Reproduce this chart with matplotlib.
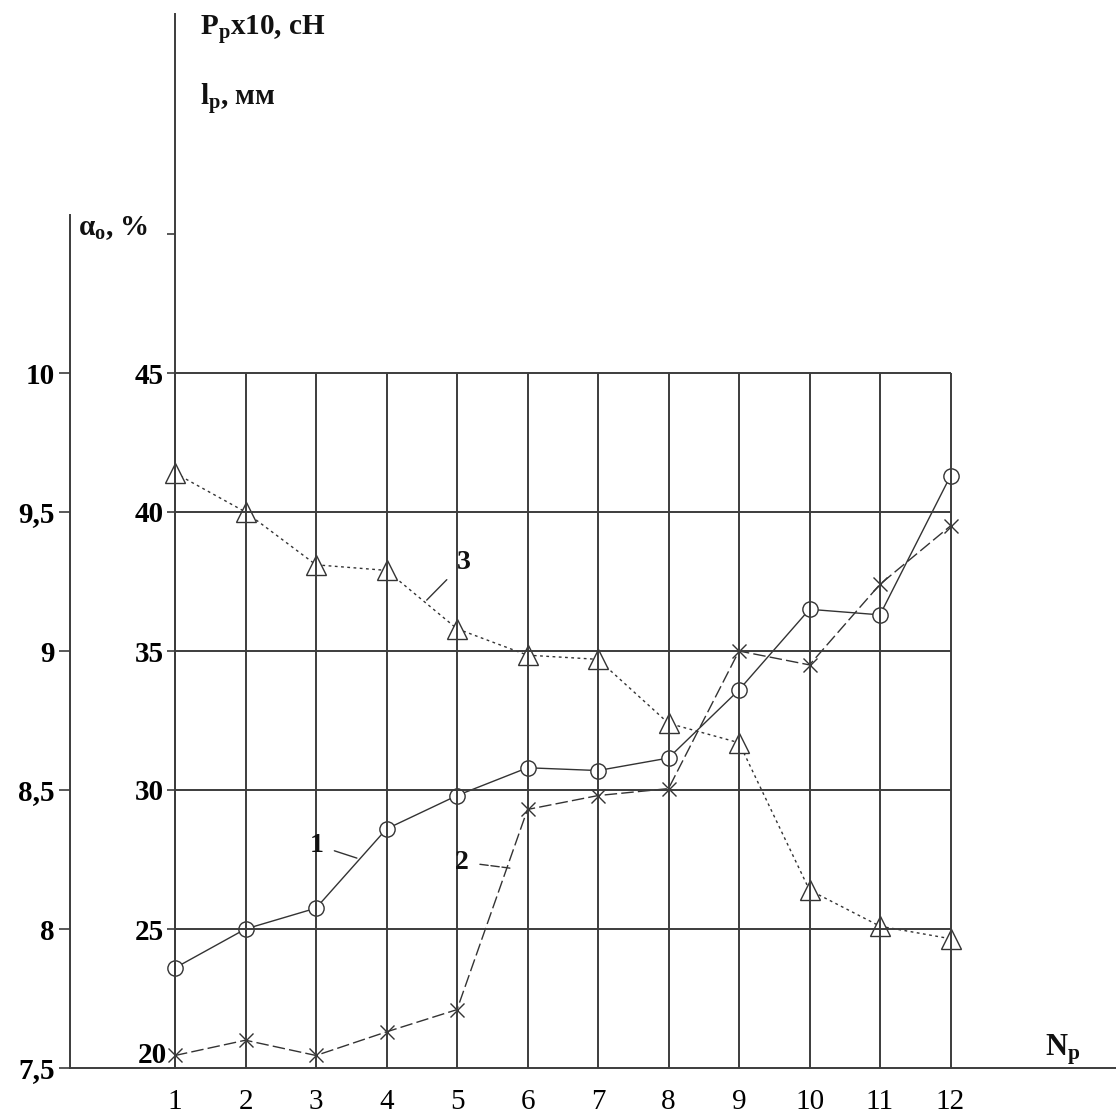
import matplotlib as mpl
mpl.use("Agg")
import matplotlib.pyplot as plt
import numpy as np

plt.rcParams["font.family"] = ["Liberation Serif", "DejaVu Serif"]
plt.rcParams["mathtext.fontset"] = "custom"
plt.rcParams["mathtext.rm"] = "Liberation Serif"
plt.rcParams["mathtext.bf"] = "Liberation Serif:bold"
plt.rcParams["mathtext.it"] = "Liberation Serif:italic"

# data
n_p = [1, 2, 3, 4, 5, 6, 7, 8, 9, 10, 11, 12]
curve_1 = [23.6, 25.0, 25.75, 28.6, 29.8, 30.8, 30.7, 31.15, 33.6, 36.5, 36.3, 41.3]
curve_2 = [20.45, 21.0, 20.45, 21.3, 22.1, 29.3, 29.8, 30.05, 35.0, 34.5, 37.4, 39.5]
curve_3 = [41.4, 40.0, 38.1, 37.9, 35.8, 34.85, 34.7, 32.4, 31.7, 26.4, 25.1, 24.65]

p_ticks = [20, 25, 30, 35, 40, 45, 50]
p_labels = ["", "25", "30", "35", "40", "45", ""]
alpha_ticks = [7.5, 8.0, 8.5, 9.0, 9.5, 10.0]
alpha_labels = ["7,5", "8", "8,5", "9", "9,5", "10"]

INK = "#333333"
GRID = "#3c3c3c"
FS = 21

W, H = 1116, 1117
X0_PX, DX_PX = 175, 70.5     # pixel of N=1 and pixels per unit
Y20_PX, DY_PX = 1068, 27.8   # pixel (from top) of P=20 and pixels per unit


def p_to_alpha(p):
    return 7.5 + (np.asarray(p) - 20.0) / 10.0


def alpha_to_p(a):
    return 20.0 + (np.asarray(a) - 7.5) * 10.0


fig = plt.figure(figsize=(W / 100, H / 100), dpi=100)
ax = fig.add_axes([0, 0, 1, 1])
ax.set_xlim(1 - X0_PX / DX_PX, 1 + (W - X0_PX) / DX_PX)
ax.set_ylim(20 - (H - Y20_PX) / DY_PX, 20 + Y20_PX / DY_PX)
x_outer = 70 / W

# grid
ax.vlines(n_p, 20, 45, color=GRID, lw=1.4, zorder=2)
ax.hlines(p_ticks[1:6], n_p[0], n_p[-1], color=GRID, lw=1.4, zorder=2)

# curves
ax.plot(n_p, curve_1, color=INK, lw=1.0, marker="o", ms=11, mfc="white",
        mec=INK, mew=1.0, zorder=1)
ax.plot(n_p, curve_2, color=INK, lw=1.0, dashes=(9, 3), marker="x", ms=10,
        mec=INK, mew=1.0, zorder=1)
ax.plot(n_p, curve_3, color=INK, lw=1.0, dashes=(2, 2.5), marker="^", ms=14,
        mfc="white", mec=INK, mew=1.0, zorder=1)

# curve labels with leaders
lab_kw = dict(fontsize=20, fontweight="bold", ha="center", va="center", color="#111111")
ax.annotate("1", xy=(3.58, 27.55), xytext=(3.01, 28.02), **lab_kw,
            arrowprops=dict(arrowstyle="-", color=INK, lw=1.0, shrinkA=6, shrinkB=0))
ax.annotate("2", xy=(5.75, 27.19), xytext=(5.07, 27.41), **lab_kw,
            arrowprops=dict(arrowstyle="-", color=INK, lw=1.0, ls=(0, (6, 2)),
                            shrinkA=6, shrinkB=0))
ax.annotate("3", xy=(4.57, 36.83), xytext=(5.09, 38.17), **lab_kw,
            arrowprops=dict(arrowstyle="-", color=INK, lw=1.0, shrinkA=7, shrinkB=0))

# inner axis (P, l) and N axis
for side in ["top", "right"]:
    ax.spines[side].set_visible(False)
ax.spines["left"].set_position(("data", 1))
ax.spines["left"].set_bounds(20, 57.9)
ax.spines["bottom"].set_position(("data", 20))
xl = ax.get_xlim()
ax.spines["bottom"].set_bounds(xl[0] + x_outer * (xl[1] - xl[0]), xl[1])
for side in ["left", "bottom"]:
    ax.spines[side].set_color(GRID)
    ax.spines[side].set_linewidth(1.4)

ax.set_yticks(p_ticks, p_labels, fontweight="bold")
ax.tick_params(axis="y", direction="out", length=6, width=1.2, pad=2,
               labelsize=FS, color=GRID)
# the "20" label sits a little above the N axis
ax.annotate(str(p_ticks[0]), xy=(n_p[0], p_ticks[0]), xytext=(-6, 9),
            textcoords="offset points", ha="right", va="center",
            fontsize=FS, fontweight="bold")
ax.set_xticks(n_p, [str(v) for v in n_p])
ax.tick_params(axis="x", length=0, pad=15, labelsize=FS)

# outer axis (alpha)
secax = ax.secondary_yaxis(x_outer, functions=(p_to_alpha, alpha_to_p))
secax.set_yticks(alpha_ticks, alpha_labels, fontweight="bold")
secax.tick_params(axis="y", direction="out", length=8, width=1.2, pad=3,
                  labelsize=FS, color=GRID)
secax.spines["left"].set_bounds(7.5, 10.57)
secax.spines["left"].set_color(GRID)
secax.spines["left"].set_linewidth(1.4)

# axis titles
ttl_kw = dict(transform=ax.transAxes, fontsize=21, fontweight="bold",
              va="center", ha="left", color="#111111")
ax.text(200 / W, 1 - 30 / H, r"P$_\mathbf{p}$x10, сН", **ttl_kw)
ax.text(200 / W, 1 - 100 / H, r"l$_\mathbf{p}$, мм", **ttl_kw)
ax.text(78 / W, 1 - 228 / H, r"α$_\mathbf{o}$, %", **ttl_kw)
ax.text(1045 / W, 1 - 1050 / H, r"N$_\mathbf{p}$", **dict(ttl_kw, fontsize=22))

fig.savefig("out.png", dpi=100)
plt.close(fig)
